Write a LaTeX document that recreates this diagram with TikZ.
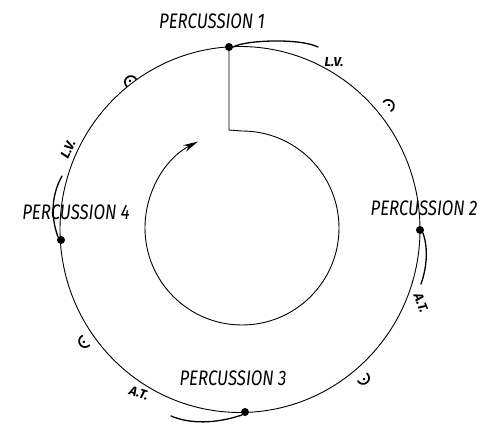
\documentclass[tikz,border=0pt]{standalone}
\usepackage{fontspec}
\newfontfamily\hand{Fira Sans}
\usetikzlibrary{arrows.meta}
\tikzset{
  ring/.style={line width=0.9pt},
  tie/.style={line width=1.3pt, line cap=round},
  bigl/.style={font=\hand\itshape\fontsize{21pt}{21pt}\selectfont, xscale=0.8, inner sep=0pt},
  smalll/.style={font=\hand\itshape\bfseries\fontsize{13pt}{13pt}\selectfont, inner sep=0pt},
  entry/.style={circle, fill=black, minimum size=8pt, inner sep=0pt},
  fermata/.pic={
    \draw[line width=1.7pt, line cap=round] (-6pt,-1pt) arc[start angle=190, end angle=-10, radius=6pt];
    \fill (0pt,1.5pt) circle[radius=1.4pt];
  }
}
\begin{document}
\begin{tikzpicture}[x=1pt,y=-1pt]
\useasboundingbox (0,0) rectangle (488,425);
\coordinate (oc) at (240,229.5);
% outer ring
\draw[ring] (oc) ellipse[x radius=180pt, y radius=183pt];
% entry points
\node[entry] (d1) at (229,47) {};
\node[entry] (d2) at (420,230) {};
\node[entry] (d3) at (245,412) {};
\node[entry] (d4) at (61,240) {};
% inner spiral
\coordinate (corner) at (229,130);
\coordinate (itop) at (242,131);
\draw[ring, -{Stealth[length=15pt, width=7pt]}] (d1.center) -- (corner) -- (itop)
  arc[start angle=90, end angle=-243, radius=97pt];
% labels
\node[bigl] (l1) at (212,21) {PERCUSSION 1};
\node[bigl] (l2) at (424,208) {PERCUSSION 2};
\node[bigl] (l3) at (233,378) {PERCUSSION 3};
\node[bigl] (l4) at (76,212) {PERCUSSION 4};
% ties (laissez vibrer)
\coordinate (t1e) at (318,47);
\coordinate (t2e) at (421,284);
\coordinate (t3e) at (171,416);
\coordinate (t4e) at (62,176);
\draw[tie] (d1.east) .. controls (245,40) and (300,38) .. (t1e);
\draw[tie] (d2.south east) .. controls (429,250) and (426,270) .. (t2e);
\draw[tie] (d3.south west) .. controls (215,424) and (190,424) .. (t3e);
\draw[tie] (d4.north west) .. controls (50,215) and (52,194) .. (t4e);
% small labels
\node[smalll] (lv1) at (334,62) {L.V.};
\node[smalll, rotate=65] (lv4) at (68,149) {L.V.};
\node[smalll, rotate=-68] (at2) at (421,303) {A.T.};
\node[smalll, rotate=-18] (at3) at (139,393) {A.T.};
% fermatas
\pic[rotate=37] at (131,82) {fermata};
\pic[rotate=-50] at (388,106) {fermata};
\pic[rotate=126] at (85,341) {fermata};
\pic[rotate=-140] at (363,378) {fermata};
\end{tikzpicture}
\end{document}
